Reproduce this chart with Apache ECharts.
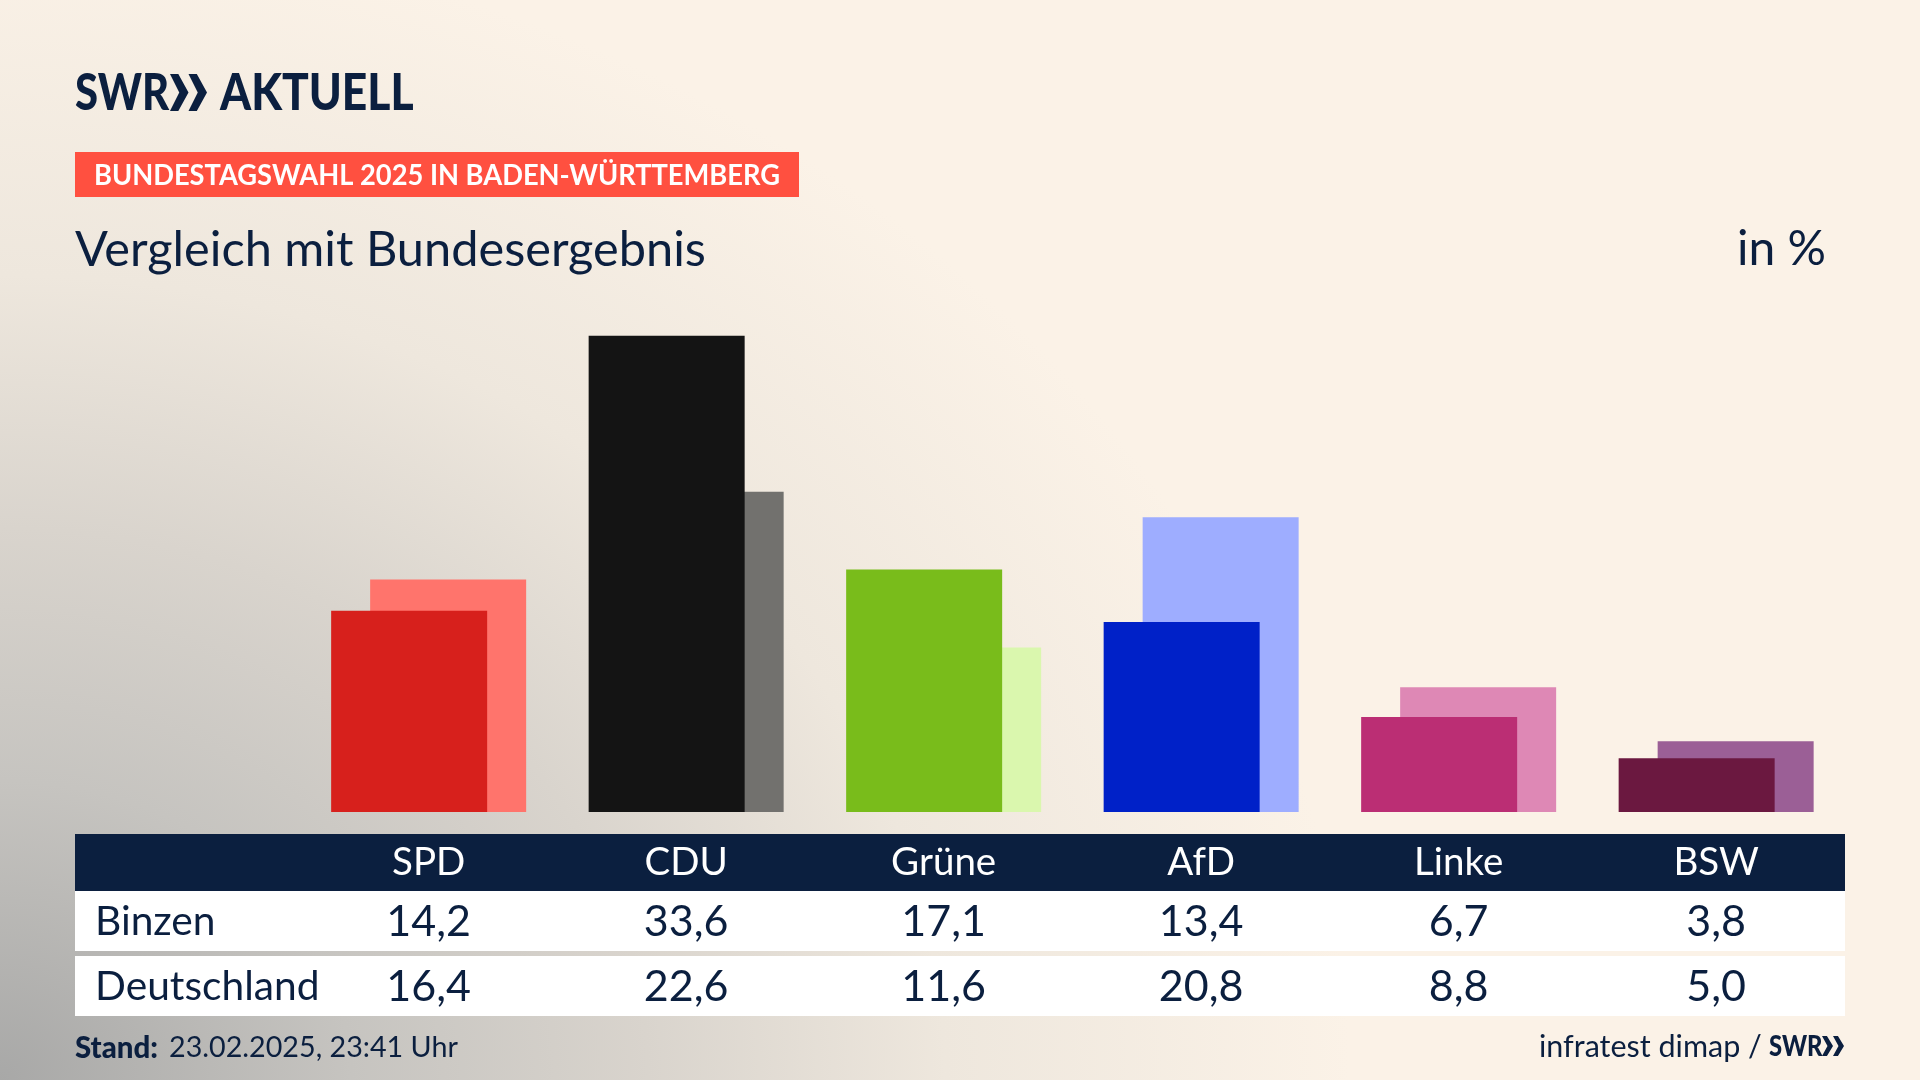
<!DOCTYPE html>
<html lang="de">
<head>
    <meta charset="UTF-8">
    <title>Vergleich mit Bundesergebnis</title>
    <script src="https://cdn.jsdelivr.net/npm/echarts@6/dist/echarts.min.js"></script>
    <style>
        html, body { margin: 0; padding: 0; width: 1920px; height: 1080px; overflow: hidden; background: #fbf2e7; }
        #bg { position: absolute; left: 0; top: 0; width: 1920px; height: 1080px;
            background: radial-gradient(ellipse 1350px 1150px at 0 100%, #a8a8a7 0%, #c6c4c0 26%, #d9d4cd 48%, #eee7dd 70%, #fbf2e7 100%); }
        #chart { position: absolute; left: 0; top: 0; width: 1920px; height: 1080px; }
    </style>
</head>
<body>
<div id="bg"></div>
<div id="chart"></div>
<script>
    var parties = ['SPD', 'CDU', 'Grüne', 'AfD', 'Linke', 'BSW'];
    var binzen = [14.2, 33.6, 17.1, 13.4, 6.7, 3.8];
    var deutschland = [16.4, 22.6, 11.6, 20.8, 8.8, 5.0];
    var binzenColors = ['#d7201c', '#141414', '#79bc1b', '#0021c8', '#bb2e74', '#6b1840'];
    var deutschlandColors = ['#ff746c', '#72716e', '#daf7ae', '#9eadff', '#de88b5', '#9b5f96'];

    var navy = '#0b1f3f';
    var font = 'Lato';

    function toItems(values, colors) {
        return values.map(function (v, i) {
            return { value: v, itemStyle: { color: colors[i] } };
        });
    }

    function rect(x, y, w, h, fill) {
        return { type: 'rect', z: 10, shape: { x: x, y: y, width: w, height: h }, style: { fill: fill } };
    }

    function text(str, x, y, size, opts) {
        opts = opts || {};
        return {
            type: 'text', z: 20, x: x, y: y, scaleX: opts.scaleX || 1,
            style: {
                text: str,
                fill: opts.fill || navy,
                font: (opts.weight || 'normal') + ' ' + size + 'px ' + font,
                textAlign: opts.align || 'left',
                textVerticalAlign: 'middle'
            }
        };
    }

    function chevrons(x, top, h, w) {
        var out = [];
        for (var i = 0; i < 2; i++) {
            var x0 = x + i * w;
            out.push({
                type: 'polygon', z: 20,
                shape: { points: [[x0, top], [x0 + w * 0.45, top], [x0 + w, top + h / 2], [x0 + w * 0.45, top + h], [x0, top + h], [x0 + w * 0.5, top + h / 2]] },
                style: { fill: navy }
            });
        }
        return out;
    }

    var chart = echarts.init(document.getElementById('chart'));
    chart.setOption({
        animation: false,
        backgroundColor: 'transparent',
        grid: { left: 299.9, top: 245, width: 1545, height: 567 },
        xAxis: { type: 'category', data: parties, show: false },
        yAxis: { type: 'value', min: 0, max: 40, show: false },
        series: [
            { name: 'Binzen', type: 'bar', z: 3, barWidth: 156, barGap: '-75%', data: toItems(binzen, binzenColors) },
            { name: 'Deutschland', type: 'bar', z: 2, barWidth: 156, data: toItems(deutschland, deutschlandColors) }
        ]
    });

    // Tabelle unter den Balken, Spalten kommen aus der Kategorieachse
    var els = [
        rect(75, 834, 1770, 57, navy),
        rect(75, 891, 1770, 60, '#ffffff'),
        rect(75, 956, 1770, 60, '#ffffff'),
        rect(75, 152, 724, 45, '#ff5040'),
        text('SWR', 75, 94, 51, { weight: 900, scaleX: 0.82 }),
        text('AKTUELL', 220, 94, 51, { weight: 900, scaleX: 0.87 }),
        text('BUNDESTAGSWAHL 2025 IN BADEN-WÜRTTEMBERG', 94, 176, 29, { weight: 'bold', fill: '#ffffff', scaleX: 0.94 }),
        text('Vergleich mit Bundesergebnis', 75, 250, 48.7),
        text('in %', 1826, 250, 48, { align: 'right' }),
        text('Binzen', 95, 922, 40.7),
        text('Deutschland', 95, 987, 40.7),
        text('Stand:', 75, 1048, 31, { weight: 900, scaleX: 0.95 }),
        text('23.02.2025, 23:41 Uhr', 169, 1048, 28.7),
        text('infratest dimap /', 1539, 1047, 30.5),
        text('SWR', 1769, 1047, 29, { weight: 900, scaleX: 0.82 })
    ];
    els = els.concat(chevrons(170, 74, 37, 18.5), chevrons(1822, 1036, 20, 11));

    parties.forEach(function (name, i) {
        var cx = chart.convertToPixel({ xAxisIndex: 0 }, name);
        els.push(text(name, cx, 863, 38.5, { fill: '#ffffff', align: 'center' }));
        els.push(text(binzen[i].toFixed(1).replace('.', ','), cx, 922, 43, { align: 'center' }));
        els.push(text(deutschland[i].toFixed(1).replace('.', ','), cx, 987, 43, { align: 'center' }));
    });

    chart.setOption({ graphic: { elements: els } });
</script>
</body>
</html>
